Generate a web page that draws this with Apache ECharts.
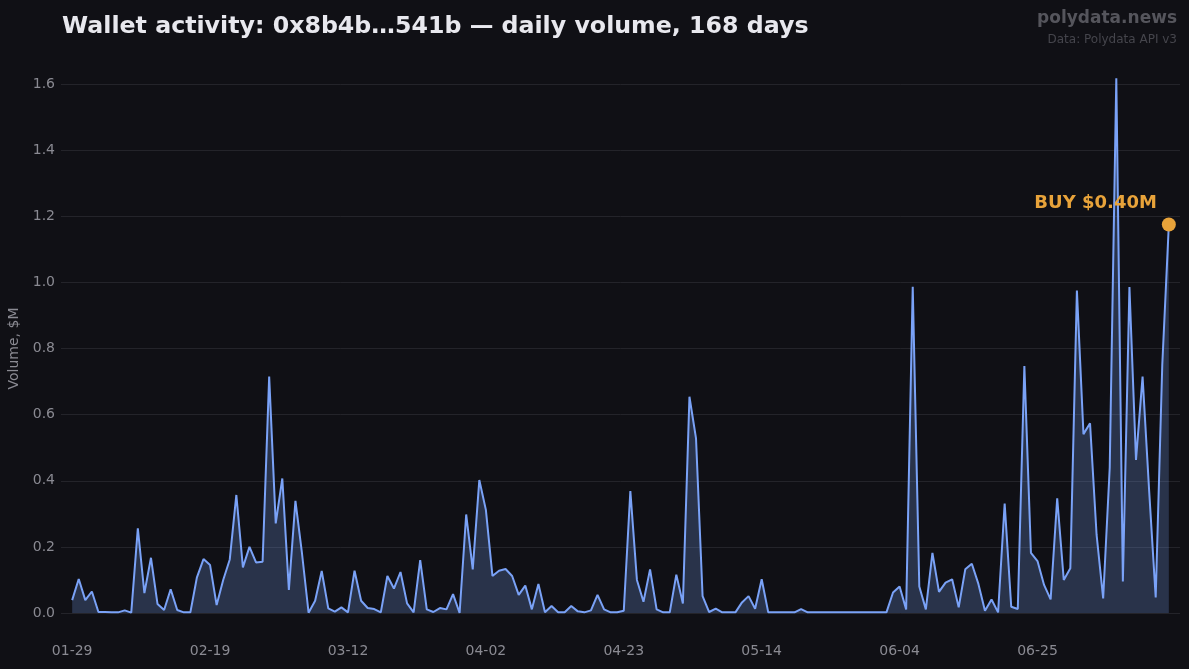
<!DOCTYPE html>
<html>
<head>
<meta charset="utf-8">
<script src="https://cdn.jsdelivr.net/npm/echarts@6/dist/echarts.min.js"></script>
<style>
html,body{margin:0;padding:0;background:#101015;}
#chart{width:1189px;height:669px;}
</style>
</head>
<body>
<div id="chart"></div>
<script>
// ---- data ----
const startDate = '2025-01-29';
const dayCount = 168;
const tickIndices = [0, 21, 42, 63, 84, 105, 126, 147];
const yTicks = [0, 0.2, 0.4, 0.6, 0.8, 1.0, 1.2, 1.4, 1.6];
const volume = [
  0.039,0.103,0.039,0.065,0.003,0.003,0.002,0.002,0.008,0.001,
  0.256,0.06,0.167,0.027,0.009,0.072,0.009,0.002,0.002,0.108,
  0.163,0.145,0.024,0.1,0.162,0.357,0.138,0.2,0.153,0.155,
  0.715,0.271,0.407,0.07,0.339,0.18,0.001,0.037,0.127,0.014,
  0.004,0.017,0.002,0.128,0.037,0.015,0.012,0.002,0.112,0.074,
  0.124,0.029,0.002,0.16,0.011,0.003,0.015,0.011,0.057,0.0,
  0.298,0.132,0.402,0.312,0.112,0.128,0.133,0.112,0.055,0.083,
  0.011,0.088,0.002,0.021,0.002,0.002,0.021,0.005,0.002,0.008,
  0.055,0.011,0.002,0.002,0.007,0.369,0.1,0.034,0.132,0.011,
  0.002,0.002,0.116,0.029,0.654,0.528,0.051,0.003,0.013,0.002,
  0.002,0.002,0.032,0.051,0.013,0.102,0.002,0.002,0.002,0.002,
  0.002,0.012,0.002,0.002,0.002,0.002,0.002,0.002,0.002,0.002,
  0.002,0.002,0.002,0.002,0.002,0.062,0.08,0.011,0.987,0.08,
  0.011,0.182,0.064,0.092,0.102,0.017,0.132,0.149,0.088,0.007,
  0.041,0.002,0.331,0.019,0.012,0.747,0.182,0.157,0.085,0.041,
  0.347,0.1,0.135,0.975,0.541,0.574,0.236,0.044,0.44,1.617,
  0.095,0.986,0.463,0.715,0.37,0.047,0.75,1.175
];
const annotationIndex = 167;
const annotationText = 'BUY $0.40M';
const titleText = 'Wallet activity: 0x8b4b…541b — daily volume, 168 days';
const brandText = 'polydata.news';
const sourceText = 'Data: Polydata API v3';
const yAxisName = 'Volume, $M';

// ---- categories (dates) ----
const dates = [];
{
  const d0 = new Date(startDate + 'T00:00:00Z');
  for (let i = 0; i < dayCount; i++) {
    const d = new Date(d0.getTime() + i * 86400000);
    const mm = String(d.getUTCMonth() + 1).padStart(2, '0');
    const dd = String(d.getUTCDate()).padStart(2, '0');
    dates.push(mm + '-' + dd);
  }
}
const lineData = volume.map((v, i) => [i, v]);

const chart = echarts.init(document.getElementById('chart'), null, {renderer: 'canvas'});
const font = 'DejaVu Sans';
chart.setOption({
  backgroundColor: '#101015',
  animation: false,
  textStyle: {fontFamily: font},
  title: [
    {text: titleText, left: 57, top: 10,
     textStyle: {color: '#e8e8ee', fontSize: 23.7, fontWeight: 'bold', fontFamily: font}},
    {text: brandText, right: 7, top: 5,
     textStyle: {color: '#55555c', fontSize: 17, fontWeight: 'bold', fontFamily: font}},
    {text: sourceText, right: 7, top: 29,
     textStyle: {color: '#45454c', fontSize: 12, fontWeight: 'normal', fontFamily: font}}
  ],
  grid: {left: 61, right: 9, top: 84, bottom: 56, containLabel: false, outerBoundsMode: 'none'},
  xAxis: {
    type: 'value', min: -1.7, max: dayCount - 1 + 1.7,
    axisLine: {show: false}, axisTick: {show: false}, splitLine: {show: false},
    axisLabel: {
      customValues: tickIndices,
      formatter: v => dates[Math.round(v)] || '',
      color: '#8a8a92', fontSize: 14, margin: 31, fontFamily: font
    }
  },
  yAxis: {
    type: 'value', min: 0, max: 1.6, interval: 0.2,
    name: yAxisName, nameLocation: 'middle', nameGap: 33,
    nameTextStyle: {color: '#8a8a92', fontSize: 14, fontFamily: font},
    axisLine: {show: false}, axisTick: {show: false},
    axisLabel: {color: '#8a8a92', fontSize: 14, margin: 6, fontFamily: font,
      formatter: v => v.toFixed(1)},
    splitLine: {lineStyle: {color: '#24242a', width: 1}}
  },
  series: [
    {
      type: 'line', data: lineData, clip: false,
      symbol: 'none', smooth: false,
      lineStyle: {color: '#7aa2f7', width: 2},
      areaStyle: {color: 'rgba(122,162,247,0.24)', opacity: 1},
      z: 2
    },
    {
      type: 'scatter', data: [[annotationIndex, volume[annotationIndex]]],
      symbolSize: 14, clip: false,
      itemStyle: {color: '#e8a33a', opacity: 1},
      label: {show: true, formatter: annotationText, position: 'left', distance: 5,
        offset: [0, -21],
        color: '#e8a33a', fontSize: 18, fontWeight: 'bold', fontFamily: font},
      z: 5
    }
  ]
});
</script>
</body>
</html>
